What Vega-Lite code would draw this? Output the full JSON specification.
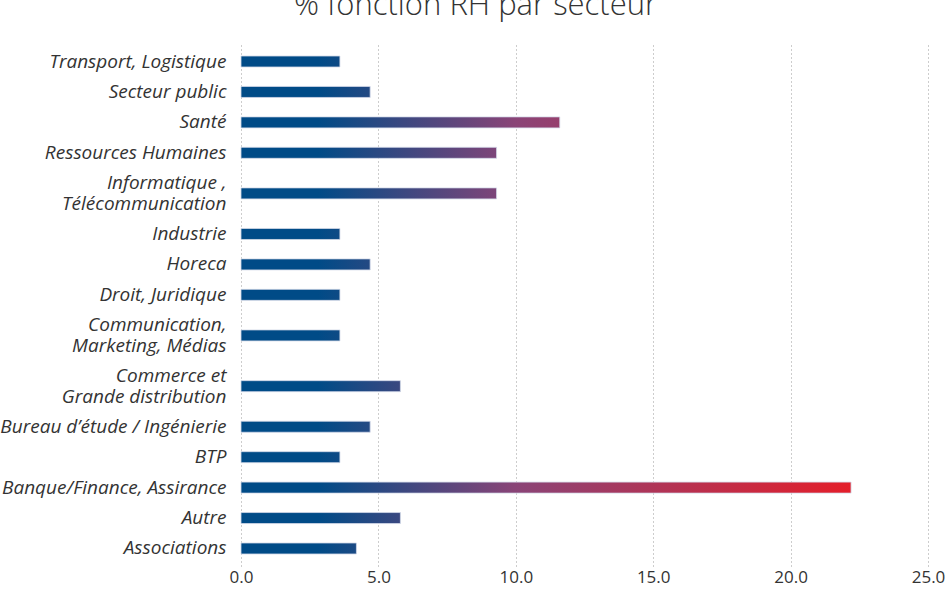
{
  "$schema": "https://vega.github.io/schema/vega-lite/v6.json",
  "autosize": {"type": "none"},
  "width": 687,
  "height": 522,
  "padding": {"left": 241, "top": 44, "right": 21, "bottom": 24},
  "background": "#ffffff",
  "title": {
    "text": "% fonction RH par secteur",
    "font": "Open Sans",
    "fontSize": 31,
    "fontWeight": 300,
    "color": "#333333",
    "anchor": "middle",
    "baseline": "alphabetic",
    "offset": 10,
    "dy": 14,
    "dx": -109
  },
  "data": {
    "values": [
      {"secteur": "Transport, Logistique", "pct": 3.6},
      {"secteur": "Secteur public", "pct": 4.7},
      {"secteur": "Santé", "pct": 11.6},
      {"secteur": "Ressources Humaines", "pct": 9.3},
      {"secteur": "Informatique ,\nTélécommunication", "pct": 9.3},
      {"secteur": "Industrie", "pct": 3.6},
      {"secteur": "Horeca", "pct": 4.7},
      {"secteur": "Droit, Juridique", "pct": 3.6},
      {"secteur": "Communication,\nMarketing, Médias", "pct": 3.6},
      {"secteur": "Commerce et\nGrande distribution", "pct": 5.8},
      {"secteur": "Bureau d’étude / Ingénierie", "pct": 4.7},
      {"secteur": "BTP", "pct": 3.6},
      {"secteur": "Banque/Finance, Assirance", "pct": 22.2},
      {"secteur": "Autre", "pct": 5.8},
      {"secteur": "Associations", "pct": 4.2}
    ]
  },
  "mark": {"type": "bar", "height": 11, "stroke": "#d3d9e8", "strokeWidth": 0.8},
  "encoding": {
    "y": {
      "field": "secteur",
      "type": "nominal",
      "sort": null,
      "scale": {
        "domain": [
          "_s0",
          "Transport, Logistique", "_s1", "_s2",
          "Secteur public", "_s4", "_s5",
          "Santé", "_s7", "_s8",
          "Ressources Humaines", "_s10", "_s11", "_s12",
          "Informatique ,\nTélécommunication", "_s14", "_s15", "_s16",
          "Industrie", "_s18", "_s19",
          "Horeca", "_s21", "_s22",
          "Droit, Juridique", "_s24", "_s25", "_s26",
          "Communication,\nMarketing, Médias", "_s28", "_s29", "_s30", "_s31",
          "Commerce et\nGrande distribution", "_s33", "_s34", "_s35",
          "Bureau d’étude / Ingénierie", "_s37", "_s38",
          "BTP", "_s40", "_s41",
          "Banque/Finance, Assirance", "_s43", "_s44",
          "Autre", "_s46", "_s47",
          "Associations",
          "_s49"
        ],
        "paddingInner": 0.55,
        "paddingOuter": 0.5
      },
      "axis": {
        "title": null,
        "domain": false,
        "ticks": false,
        "grid": false,
        "labelExpr": "indexof(datum.value, '_s') == 0 ? '' : split(datum.value, '\\n')",
        "labelFont": "Open Sans",
        "labelFontSize": 19,
        "labelFontStyle": "italic",
        "labelColor": "#333333",
        "labelPadding": 15,
        "labelLimit": 400,
        "labelLineHeight": 21,
        "labelOverlap": false,
        "labelOffset": {"condition": {"test": "indexof(datum.value, '\\n') >= 0", "value": -10.5}, "value": 0}
      }
    },
    "x": {
      "field": "pct",
      "type": "quantitative",
      "scale": {"domain": [0, 25], "nice": false},
      "axis": {
        "title": null,
        "values": [0, 5, 10, 15, 20, 25],
        "format": ".1f",
        "domain": false,
        "ticks": false,
        "tickSize": 0,
        "grid": true,
        "gridColor": "#9a9a9a",
        "gridDash": [1, 3],
        "gridWidth": 1,
        "labelFont": "Open Sans",
        "labelFontSize": 17,
        "labelColor": "#333333",
        "labelPadding": 3,
        "labelFlush": false
      }
    },
    "fill": {
      "condition": [
        {"test": "datum.pct > 20", "value": {"gradient": "linear", "x1": 0, "x2": 1, "y1": 0, "y2": 0, "stops": [{"offset": 0, "color": "#004b87"}, {"offset": 0.126, "color": "#004b87"}, {"offset": 0.45, "color": "#8a4477"}, {"offset": 1, "color": "#e41e2a"}]}},
        {"test": "datum.pct > 11", "value": {"gradient": "linear", "x1": 0, "x2": 1, "y1": 0, "y2": 0, "stops": [{"offset": 0, "color": "#004b87"}, {"offset": 0.241, "color": "#004b87"}, {"offset": 0.862, "color": "#8a4477"}, {"offset": 1, "color": "#963f6d"}]}},
        {"test": "datum.pct > 9", "value": {"gradient": "linear", "x1": 0, "x2": 1, "y1": 0, "y2": 0, "stops": [{"offset": 0, "color": "#004b87"}, {"offset": 0.301, "color": "#004b87"}, {"offset": 1, "color": "#7d4579"}]}},
        {"test": "datum.pct > 5.5", "value": {"gradient": "linear", "x1": 0, "x2": 1, "y1": 0, "y2": 0, "stops": [{"offset": 0, "color": "#004b87"}, {"offset": 0.483, "color": "#004b87"}, {"offset": 1, "color": "#3a4880"}]}},
        {"test": "datum.pct > 4.5", "value": {"gradient": "linear", "x1": 0, "x2": 1, "y1": 0, "y2": 0, "stops": [{"offset": 0, "color": "#004b87"}, {"offset": 0.596, "color": "#004b87"}, {"offset": 1, "color": "#244983"}]}},
        {"test": "datum.pct > 4", "value": {"gradient": "linear", "x1": 0, "x2": 1, "y1": 0, "y2": 0, "stops": [{"offset": 0, "color": "#004b87"}, {"offset": 0.667, "color": "#004b87"}, {"offset": 1, "color": "#1b4a84"}]}}
      ],
      "value": {"gradient": "linear", "x1": 0, "x2": 1, "y1": 0, "y2": 0, "stops": [{"offset": 0, "color": "#004b87"}, {"offset": 0.778, "color": "#004b87"}, {"offset": 1, "color": "#0f4a85"}]}
    }
  },
  "config": {"view": {"stroke": null}}
}
